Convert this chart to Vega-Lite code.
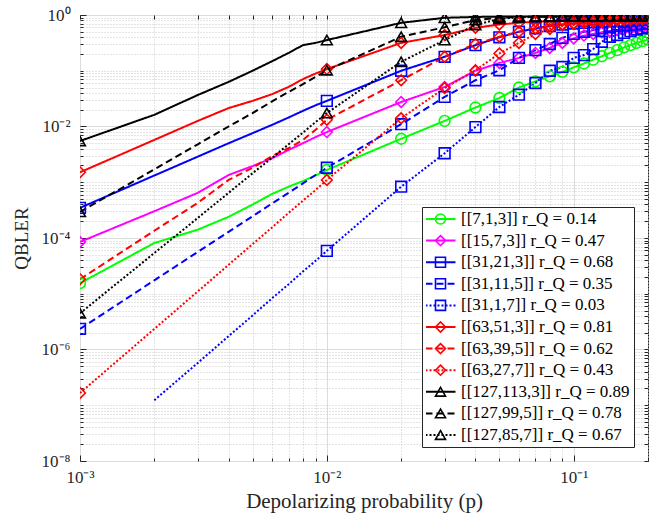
{
  "$schema": "https://vega.github.io/schema/vega-lite/v6.json",
  "width": 568,
  "height": 446,
  "autosize": "none",
  "padding": {"left": 80, "top": 15, "right": 2, "bottom": 59},
  "background": "white",
  "datasets": {
    "d": [
      {"s":"[[7,1,3]]","p":0.001,"q":1.55e-5},{"s":"[[7,1,3]]","p":0.002,"q":8.13e-5},{"s":"[[7,1,3]]","p":0.003,"q":1.41e-4},{"s":"[[7,1,3]]","p":0.004,"q":2.40e-4},{"s":"[[7,1,3]]","p":0.005,"q":3.98e-4},{"s":"[[7,1,3]]","p":0.006,"q":6.17e-4},{"s":"[[7,1,3]]","p":0.007,"q":8.32e-4},{"s":"[[7,1,3]]","p":0.008,"q":1.05e-3},{"s":"[[7,1,3]]","p":0.009,"q":1.32e-3},{"s":"[[7,1,3]]","p":0.01,"q":1.66e-3},{"s":"[[7,1,3]]","p":0.02,"q":6.03e-3},{"s":"[[7,1,3]]","p":0.03,"q":0.0126},{"s":"[[7,1,3]]","p":0.04,"q":0.0219},{"s":"[[7,1,3]]","p":0.05,"q":0.0324},{"s":"[[7,1,3]]","p":0.06,"q":0.0501},{"s":"[[7,1,3]]","p":0.07,"q":0.0646},{"s":"[[7,1,3]]","p":0.08,"q":0.0794},{"s":"[[7,1,3]]","p":0.09,"q":0.0955},{"s":"[[7,1,3]]","p":0.1,"q":0.115},{"s":"[[7,1,3]]","p":0.11,"q":0.135},{"s":"[[7,1,3]]","p":0.12,"q":0.158},{"s":"[[7,1,3]]","p":0.13,"q":0.182},{"s":"[[7,1,3]]","p":0.14,"q":0.209},{"s":"[[7,1,3]]","p":0.15,"q":0.234},{"s":"[[7,1,3]]","p":0.16,"q":0.263},{"s":"[[7,1,3]]","p":0.17,"q":0.288},{"s":"[[7,1,3]]","p":0.18,"q":0.316},{"s":"[[7,1,3]]","p":0.19,"q":0.339},{"s":"[[7,1,3]]","p":0.2,"q":0.363},
      {"s":"[[15,7,3]]","p":0.001,"q":8.51e-5},{"s":"[[15,7,3]]","p":0.002,"q":3.02e-4},{"s":"[[15,7,3]]","p":0.003,"q":6.46e-4},{"s":"[[15,7,3]]","p":0.004,"q":1.35e-3},{"s":"[[15,7,3]]","p":0.005,"q":1.95e-3},{"s":"[[15,7,3]]","p":0.006,"q":2.69e-3},{"s":"[[15,7,3]]","p":0.007,"q":3.80e-3},{"s":"[[15,7,3]]","p":0.008,"q":5.01e-3},{"s":"[[15,7,3]]","p":0.009,"q":6.46e-3},{"s":"[[15,7,3]]","p":0.01,"q":7.94e-3},{"s":"[[15,7,3]]","p":0.02,"q":0.0275},{"s":"[[15,7,3]]","p":0.03,"q":0.0513},{"s":"[[15,7,3]]","p":0.04,"q":0.1},{"s":"[[15,7,3]]","p":0.05,"q":0.138},{"s":"[[15,7,3]]","p":0.06,"q":0.170},{"s":"[[15,7,3]]","p":0.07,"q":0.209},{"s":"[[15,7,3]]","p":0.08,"q":0.257},{"s":"[[15,7,3]]","p":0.09,"q":0.316},{"s":"[[15,7,3]]","p":0.1,"q":0.380},{"s":"[[15,7,3]]","p":0.11,"q":0.427},{"s":"[[15,7,3]]","p":0.12,"q":0.457},{"s":"[[15,7,3]]","p":0.13,"q":0.490},{"s":"[[15,7,3]]","p":0.14,"q":0.513},{"s":"[[15,7,3]]","p":0.15,"q":0.537},{"s":"[[15,7,3]]","p":0.16,"q":0.550},{"s":"[[15,7,3]]","p":0.17,"q":0.562},{"s":"[[15,7,3]]","p":0.18,"q":0.575},{"s":"[[15,7,3]]","p":0.19,"q":0.589},{"s":"[[15,7,3]]","p":0.2,"q":0.603},
      {"s":"[[31,21,3]]","p":0.001,"q":3.47e-4},{"s":"[[31,21,3]]","p":0.002,"q":1.32e-3},{"s":"[[31,21,3]]","p":0.003,"q":2.88e-3},{"s":"[[31,21,3]]","p":0.004,"q":5.01e-3},{"s":"[[31,21,3]]","p":0.005,"q":7.59e-3},{"s":"[[31,21,3]]","p":0.006,"q":0.0107},{"s":"[[31,21,3]]","p":0.007,"q":0.0145},{"s":"[[31,21,3]]","p":0.008,"q":0.0191},{"s":"[[31,21,3]]","p":0.009,"q":0.0240},{"s":"[[31,21,3]]","p":0.01,"q":0.0288},{"s":"[[31,21,3]]","p":0.02,"q":0.1},{"s":"[[31,21,3]]","p":0.03,"q":0.178},{"s":"[[31,21,3]]","p":0.04,"q":0.288},{"s":"[[31,21,3]]","p":0.05,"q":0.398},{"s":"[[31,21,3]]","p":0.06,"q":0.501},{"s":"[[31,21,3]]","p":0.07,"q":0.575},{"s":"[[31,21,3]]","p":0.08,"q":0.631},{"s":"[[31,21,3]]","p":0.09,"q":0.676},{"s":"[[31,21,3]]","p":0.1,"q":0.708},{"s":"[[31,21,3]]","p":0.11,"q":0.724},{"s":"[[31,21,3]]","p":0.12,"q":0.741},{"s":"[[31,21,3]]","p":0.13,"q":0.759},{"s":"[[31,21,3]]","p":0.14,"q":0.767},{"s":"[[31,21,3]]","p":0.15,"q":0.776},{"s":"[[31,21,3]]","p":0.16,"q":0.785},{"s":"[[31,21,3]]","p":0.17,"q":0.794},{"s":"[[31,21,3]]","p":0.18,"q":0.804},{"s":"[[31,21,3]]","p":0.19,"q":0.813},{"s":"[[31,21,3]]","p":0.2,"q":0.822},
      {"s":"[[31,11,5]]","p":0.001,"q":2.34e-6},{"s":"[[31,11,5]]","p":0.002,"q":1.74e-5},{"s":"[[31,11,5]]","p":0.003,"q":5.62e-5},{"s":"[[31,11,5]]","p":0.004,"q":1.29e-4},{"s":"[[31,11,5]]","p":0.005,"q":2.45e-4},{"s":"[[31,11,5]]","p":0.006,"q":4.17e-4},{"s":"[[31,11,5]]","p":0.007,"q":6.46e-4},{"s":"[[31,11,5]]","p":0.008,"q":9.55e-4},{"s":"[[31,11,5]]","p":0.009,"q":1.35e-3},{"s":"[[31,11,5]]","p":0.01,"q":1.82e-3},{"s":"[[31,11,5]]","p":0.02,"q":0.011},{"s":"[[31,11,5]]","p":0.03,"q":0.0339},{"s":"[[31,11,5]]","p":0.04,"q":0.0676},{"s":"[[31,11,5]]","p":0.05,"q":0.102},{"s":"[[31,11,5]]","p":0.06,"q":0.170},{"s":"[[31,11,5]]","p":0.07,"q":0.234},{"s":"[[31,11,5]]","p":0.08,"q":0.302},{"s":"[[31,11,5]]","p":0.09,"q":0.389},{"s":"[[31,11,5]]","p":0.1,"q":0.457},{"s":"[[31,11,5]]","p":0.11,"q":0.501},{"s":"[[31,11,5]]","p":0.12,"q":0.537},{"s":"[[31,11,5]]","p":0.13,"q":0.575},{"s":"[[31,11,5]]","p":0.14,"q":0.603},{"s":"[[31,11,5]]","p":0.15,"q":0.631},{"s":"[[31,11,5]]","p":0.16,"q":0.646},{"s":"[[31,11,5]]","p":0.17,"q":0.661},{"s":"[[31,11,5]]","p":0.18,"q":0.676},{"s":"[[31,11,5]]","p":0.19,"q":0.692},{"s":"[[31,11,5]]","p":0.2,"q":0.708},
      {"s":"[[31,1,7]]","p":0.002,"q":1.23e-7},{"s":"[[31,1,7]]","p":0.003,"q":5.75e-7},{"s":"[[31,1,7]]","p":0.004,"q":1.74e-6},{"s":"[[31,1,7]]","p":0.005,"q":4.07e-6},{"s":"[[31,1,7]]","p":0.006,"q":8.32e-6},{"s":"[[31,1,7]]","p":0.007,"q":1.48e-5},{"s":"[[31,1,7]]","p":0.008,"q":2.51e-5},{"s":"[[31,1,7]]","p":0.009,"q":3.89e-5},{"s":"[[31,1,7]]","p":0.01,"q":5.89e-5},{"s":"[[31,1,7]]","p":0.02,"q":8.32e-4},{"s":"[[31,1,7]]","p":0.03,"q":3.31e-3},{"s":"[[31,1,7]]","p":0.04,"q":9.77e-3},{"s":"[[31,1,7]]","p":0.05,"q":0.0224},{"s":"[[31,1,7]]","p":0.06,"q":0.0372},{"s":"[[31,1,7]]","p":0.07,"q":0.0603},{"s":"[[31,1,7]]","p":0.08,"q":0.1},{"s":"[[31,1,7]]","p":0.09,"q":0.117},{"s":"[[31,1,7]]","p":0.1,"q":0.170},{"s":"[[31,1,7]]","p":0.11,"q":0.191},{"s":"[[31,1,7]]","p":0.12,"q":0.245},{"s":"[[31,1,7]]","p":0.13,"q":0.331},{"s":"[[31,1,7]]","p":0.14,"q":0.407},{"s":"[[31,1,7]]","p":0.15,"q":0.437},{"s":"[[31,1,7]]","p":0.16,"q":0.479},{"s":"[[31,1,7]]","p":0.17,"q":0.513},{"s":"[[31,1,7]]","p":0.18,"q":0.550},{"s":"[[31,1,7]]","p":0.19,"q":0.575},{"s":"[[31,1,7]]","p":0.2,"q":0.603},
      {"s":"[[63,51,3]]","p":0.001,"q":1.51e-3},{"s":"[[63,51,3]]","p":0.002,"q":5.75e-3},{"s":"[[63,51,3]]","p":0.003,"q":0.0126},{"s":"[[63,51,3]]","p":0.004,"q":0.0214},{"s":"[[63,51,3]]","p":0.005,"q":0.0288},{"s":"[[63,51,3]]","p":0.006,"q":0.038},{"s":"[[63,51,3]]","p":0.007,"q":0.0513},{"s":"[[63,51,3]]","p":0.008,"q":0.0708},{"s":"[[63,51,3]]","p":0.009,"q":0.0891},{"s":"[[63,51,3]]","p":0.01,"q":0.107},{"s":"[[63,51,3]]","p":0.02,"q":0.316},{"s":"[[63,51,3]]","p":0.03,"q":0.437},{"s":"[[63,51,3]]","p":0.04,"q":0.589},{"s":"[[63,51,3]]","p":0.05,"q":0.676},{"s":"[[63,51,3]]","p":0.06,"q":0.724},{"s":"[[63,51,3]]","p":0.07,"q":0.759},{"s":"[[63,51,3]]","p":0.08,"q":0.776},{"s":"[[63,51,3]]","p":0.09,"q":0.794},{"s":"[[63,51,3]]","p":0.1,"q":0.813},{"s":"[[63,51,3]]","p":0.11,"q":0.822},{"s":"[[63,51,3]]","p":0.12,"q":0.832},{"s":"[[63,51,3]]","p":0.13,"q":0.841},{"s":"[[63,51,3]]","p":0.14,"q":0.851},{"s":"[[63,51,3]]","p":0.15,"q":0.855},{"s":"[[63,51,3]]","p":0.16,"q":0.861},{"s":"[[63,51,3]]","p":0.17,"q":0.867},{"s":"[[63,51,3]]","p":0.18,"q":0.871},{"s":"[[63,51,3]]","p":0.19,"q":0.875},{"s":"[[63,51,3]]","p":0.2,"q":0.881},
      {"s":"[[63,39,5]]","p":0.001,"q":1.82e-5},{"s":"[[63,39,5]]","p":0.002,"q":1.35e-4},{"s":"[[63,39,5]]","p":0.003,"q":4.27e-4},{"s":"[[63,39,5]]","p":0.004,"q":1.10e-3},{"s":"[[63,39,5]]","p":0.005,"q":1.82e-3},{"s":"[[63,39,5]]","p":0.006,"q":2.95e-3},{"s":"[[63,39,5]]","p":0.007,"q":4.07e-3},{"s":"[[63,39,5]]","p":0.008,"q":5.75e-3},{"s":"[[63,39,5]]","p":0.009,"q":8.71e-3},{"s":"[[63,39,5]]","p":0.01,"q":0.0132},{"s":"[[63,39,5]]","p":0.02,"q":0.0676},{"s":"[[63,39,5]]","p":0.03,"q":0.178},{"s":"[[63,39,5]]","p":0.04,"q":0.302},{"s":"[[63,39,5]]","p":0.05,"q":0.407},{"s":"[[63,39,5]]","p":0.06,"q":0.501},{"s":"[[63,39,5]]","p":0.07,"q":0.575},{"s":"[[63,39,5]]","p":0.08,"q":0.631},{"s":"[[63,39,5]]","p":0.09,"q":0.676},{"s":"[[63,39,5]]","p":0.1,"q":0.708},{"s":"[[63,39,5]]","p":0.11,"q":0.724},{"s":"[[63,39,5]]","p":0.12,"q":0.741},{"s":"[[63,39,5]]","p":0.13,"q":0.759},{"s":"[[63,39,5]]","p":0.14,"q":0.776},{"s":"[[63,39,5]]","p":0.15,"q":0.794},{"s":"[[63,39,5]]","p":0.16,"q":0.804},{"s":"[[63,39,5]]","p":0.17,"q":0.813},{"s":"[[63,39,5]]","p":0.18,"q":0.822},{"s":"[[63,39,5]]","p":0.19,"q":0.832},{"s":"[[63,39,5]]","p":0.2,"q":0.841},
      {"s":"[[63,27,7]]","p":0.001,"q":1.66e-7},{"s":"[[63,27,7]]","p":0.002,"q":2.34e-6},{"s":"[[63,27,7]]","p":0.003,"q":1.10e-5},{"s":"[[63,27,7]]","p":0.004,"q":3.31e-5},{"s":"[[63,27,7]]","p":0.005,"q":7.76e-5},{"s":"[[63,27,7]]","p":0.006,"q":1.55e-4},{"s":"[[63,27,7]]","p":0.007,"q":2.82e-4},{"s":"[[63,27,7]]","p":0.008,"q":4.68e-4},{"s":"[[63,27,7]]","p":0.009,"q":7.24e-4},{"s":"[[63,27,7]]","p":0.01,"q":1.10e-3},{"s":"[[63,27,7]]","p":0.02,"q":0.0141},{"s":"[[63,27,7]]","p":0.03,"q":0.049},{"s":"[[63,27,7]]","p":0.04,"q":0.102},{"s":"[[63,27,7]]","p":0.05,"q":0.204},{"s":"[[63,27,7]]","p":0.06,"q":0.316},{"s":"[[63,27,7]]","p":0.07,"q":0.457},{"s":"[[63,27,7]]","p":0.08,"q":0.562},{"s":"[[63,27,7]]","p":0.09,"q":0.646},{"s":"[[63,27,7]]","p":0.1,"q":0.692},{"s":"[[63,27,7]]","p":0.11,"q":0.724},{"s":"[[63,27,7]]","p":0.12,"q":0.759},{"s":"[[63,27,7]]","p":0.13,"q":0.776},{"s":"[[63,27,7]]","p":0.14,"q":0.794},{"s":"[[63,27,7]]","p":0.15,"q":0.813},{"s":"[[63,27,7]]","p":0.16,"q":0.822},{"s":"[[63,27,7]]","p":0.17,"q":0.832},{"s":"[[63,27,7]]","p":0.18,"q":0.841},{"s":"[[63,27,7]]","p":0.19,"q":0.851},{"s":"[[63,27,7]]","p":0.2,"q":0.861},
      {"s":"[[127,113,3]]","p":0.001,"q":5.50e-3},{"s":"[[127,113,3]]","p":0.002,"q":0.0162},{"s":"[[127,113,3]]","p":0.003,"q":0.0367},{"s":"[[127,113,3]]","p":0.004,"q":0.0631},{"s":"[[127,113,3]]","p":0.005,"q":0.1},{"s":"[[127,113,3]]","p":0.006,"q":0.148},{"s":"[[127,113,3]]","p":0.007,"q":0.209},{"s":"[[127,113,3]]","p":0.008,"q":0.288},{"s":"[[127,113,3]]","p":0.009,"q":0.316},{"s":"[[127,113,3]]","p":0.01,"q":0.355},{"s":"[[127,113,3]]","p":0.02,"q":0.724},{"s":"[[127,113,3]]","p":0.03,"q":0.891},{"s":"[[127,113,3]]","p":0.04,"q":0.923},{"s":"[[127,113,3]]","p":0.05,"q":0.933},{"s":"[[127,113,3]]","p":0.06,"q":0.944},{"s":"[[127,113,3]]","p":0.07,"q":0.944},{"s":"[[127,113,3]]","p":0.08,"q":0.948},{"s":"[[127,113,3]]","p":0.09,"q":0.95},{"s":"[[127,113,3]]","p":0.1,"q":0.952},{"s":"[[127,113,3]]","p":0.11,"q":0.953},{"s":"[[127,113,3]]","p":0.12,"q":0.955},{"s":"[[127,113,3]]","p":0.13,"q":0.956},{"s":"[[127,113,3]]","p":0.14,"q":0.957},{"s":"[[127,113,3]]","p":0.15,"q":0.958},{"s":"[[127,113,3]]","p":0.16,"q":0.959},{"s":"[[127,113,3]]","p":0.17,"q":0.96},{"s":"[[127,113,3]]","p":0.18,"q":0.96},{"s":"[[127,113,3]]","p":0.19,"q":0.961},{"s":"[[127,113,3]]","p":0.2,"q":0.962},
      {"s":"[[127,99,5]]","p":0.001,"q":2.95e-4},{"s":"[[127,99,5]]","p":0.002,"q":1.70e-3},{"s":"[[127,99,5]]","p":0.003,"q":4.79e-3},{"s":"[[127,99,5]]","p":0.004,"q":0.01},{"s":"[[127,99,5]]","p":0.005,"q":0.0174},{"s":"[[127,99,5]]","p":0.006,"q":0.0282},{"s":"[[127,99,5]]","p":0.007,"q":0.0417},{"s":"[[127,99,5]]","p":0.008,"q":0.0575},{"s":"[[127,99,5]]","p":0.009,"q":0.0776},{"s":"[[127,99,5]]","p":0.01,"q":0.102},{"s":"[[127,99,5]]","p":0.02,"q":0.407},{"s":"[[127,99,5]]","p":0.03,"q":0.603},{"s":"[[127,99,5]]","p":0.04,"q":0.813},{"s":"[[127,99,5]]","p":0.05,"q":0.891},{"s":"[[127,99,5]]","p":0.06,"q":0.923},{"s":"[[127,99,5]]","p":0.07,"q":0.93},{"s":"[[127,99,5]]","p":0.08,"q":0.933},{"s":"[[127,99,5]]","p":0.09,"q":0.936},{"s":"[[127,99,5]]","p":0.1,"q":0.938},{"s":"[[127,99,5]]","p":0.11,"q":0.94},{"s":"[[127,99,5]]","p":0.12,"q":0.942},{"s":"[[127,99,5]]","p":0.13,"q":0.944},{"s":"[[127,99,5]]","p":0.14,"q":0.946},{"s":"[[127,99,5]]","p":0.15,"q":0.948},{"s":"[[127,99,5]]","p":0.16,"q":0.95},{"s":"[[127,99,5]]","p":0.17,"q":0.951},{"s":"[[127,99,5]]","p":0.18,"q":0.952},{"s":"[[127,99,5]]","p":0.19,"q":0.953},{"s":"[[127,99,5]]","p":0.2,"q":0.955},
      {"s":"[[127,85,7]]","p":0.001,"q":4.47e-6},{"s":"[[127,85,7]]","p":0.002,"q":5.37e-5},{"s":"[[127,85,7]]","p":0.003,"q":2.29e-4},{"s":"[[127,85,7]]","p":0.004,"q":6.46e-4},{"s":"[[127,85,7]]","p":0.005,"q":1.45e-3},{"s":"[[127,85,7]]","p":0.006,"q":2.75e-3},{"s":"[[127,85,7]]","p":0.007,"q":4.79e-3},{"s":"[[127,85,7]]","p":0.008,"q":7.76e-3},{"s":"[[127,85,7]]","p":0.009,"q":0.012},{"s":"[[127,85,7]]","p":0.01,"q":0.0174},{"s":"[[127,85,7]]","p":0.02,"q":0.145},{"s":"[[127,85,7]]","p":0.03,"q":0.355},{"s":"[[127,85,7]]","p":0.04,"q":0.661},{"s":"[[127,85,7]]","p":0.05,"q":0.851},{"s":"[[127,85,7]]","p":0.06,"q":0.912},{"s":"[[127,85,7]]","p":0.07,"q":0.925},{"s":"[[127,85,7]]","p":0.08,"q":0.93},{"s":"[[127,85,7]]","p":0.09,"q":0.934},{"s":"[[127,85,7]]","p":0.1,"q":0.937},{"s":"[[127,85,7]]","p":0.11,"q":0.94},{"s":"[[127,85,7]]","p":0.12,"q":0.942},{"s":"[[127,85,7]]","p":0.13,"q":0.944},{"s":"[[127,85,7]]","p":0.14,"q":0.946},{"s":"[[127,85,7]]","p":0.15,"q":0.948},{"s":"[[127,85,7]]","p":0.16,"q":0.95},{"s":"[[127,85,7]]","p":0.17,"q":0.951},{"s":"[[127,85,7]]","p":0.18,"q":0.952},{"s":"[[127,85,7]]","p":0.19,"q":0.953},{"s":"[[127,85,7]]","p":0.2,"q":0.955}
    ]
  },
  "data": {"name": "d"},
  "layer": [
    {
      "mark": {"type": "line", "strokeWidth": 2, "clip": true},
      "encoding": {
        "x": {"field": "p", "type": "quantitative",
          "scale": {"type": "log", "domain": [0.001, 0.2], "nice": false},
          "axis": {"orient": "bottom", "values": [0.001, 0.01, 0.1], "grid": true, "gridColor": "#dcdcdc", "gridWidth": 1,
            "tickSize": -6, "labelPadding": 14, "labelFontSize": 17, "labelFlush": false,
            "labelExpr": "datum.value < 0.005 ? '10⁻³' : datum.value < 0.05 ? '10⁻²' : '10⁻¹'",
            "title": "Depolarizing probability (p)", "titleFontSize": 21, "titlePadding": 5}},
        "y": {"field": "q", "type": "quantitative",
          "scale": {"type": "log", "domain": [1e-8, 1], "nice": false},
          "axis": {"orient": "left", "values": [1, 0.01, 0.0001, 1e-6, 1e-8], "grid": true, "gridColor": "#dcdcdc", "gridWidth": 1,
            "tickSize": -6, "labelPadding": 16, "labelFontSize": 17, "labelFlush": false,
            "labelExpr": "datum.value > 0.5 ? '10⁰' : datum.value > 0.005 ? '10⁻²' : datum.value > 0.00005 ? '10⁻⁴' : datum.value > 5e-7 ? '10⁻⁶' : '10⁻⁸'",
            "title": "QBLER", "titleFontSize": 19, "titlePadding": 10}},
        "color": {"field": "s", "type": "nominal",
          "scale": {"domain": ["[[7,1,3]]","[[15,7,3]]","[[31,21,3]]","[[31,11,5]]","[[31,1,7]]","[[63,51,3]]","[[63,39,5]]","[[63,27,7]]","[[127,113,3]]","[[127,99,5]]","[[127,85,7]]"],
            "range": ["#00ff00","#ff00ff","#0000ff","#0000ff","#0000ff","#ff0000","#ff0000","#ff0000","#000000","#000000","#000000"]},
          "legend": {"orient": "none", "legendX": 342, "legendY": 192, "title": null, "symbolType": "M-3,0H3", "symbolSize": 100, "symbolStrokeWidth": 2,
            "symbolOffset": 6, "labelOffset": 12, "labelFontSize": 17, "labelFont": "Liberation Serif", "labelColor": "#000000", "rowPadding": 4.6, "padding": 4, "clipHeight": 16,
            "fillColor": "white", "strokeColor": "#262626", "labelLimit": 300,
            "labelExpr": "datum.label + ' r_Q = ' + ['0.14','0.47','0.68','0.35','0.03','0.81','0.62','0.43','0.89','0.78','0.67'][indexof(['[[7,1,3]]','[[15,7,3]]','[[31,21,3]]','[[31,11,5]]','[[31,1,7]]','[[63,51,3]]','[[63,39,5]]','[[63,27,7]]','[[127,113,3]]','[[127,99,5]]','[[127,85,7]]'], datum.label)]"}},
        "strokeDash": {"field": "s", "type": "nominal",
          "scale": {"domain": ["[[7,1,3]]","[[15,7,3]]","[[31,21,3]]","[[31,11,5]]","[[31,1,7]]","[[63,51,3]]","[[63,39,5]]","[[63,27,7]]","[[127,113,3]]","[[127,99,5]]","[[127,85,7]]"],
            "range": [[1,0],[1,0],[1,0],[7,4],[2,2],[1,0],[7,4],[2,2],[1,0],[7,4],[2,2]]},
          "legend": {"orient": "none", "legendX": 342, "legendY": 192, "title": null, "symbolType": "M-3,0H3", "symbolSize": 100, "symbolStrokeWidth": 2,
            "symbolOffset": 6, "labelOffset": 12, "labelFontSize": 17, "labelFont": "Liberation Serif", "labelColor": "#000000", "rowPadding": 4.6, "padding": 4, "clipHeight": 16,
            "fillColor": "white", "strokeColor": "#262626", "labelLimit": 300}}
      }
    },
    {
      "transform": [{"filter": "datum.p < 0.0015 || datum.p > 0.0095"}],
      "mark": {"type": "point", "filled": false, "strokeWidth": 1.6, "size": 115, "opacity": 1, "clip": true},
      "encoding": {
        "x": {"field": "p", "type": "quantitative",
          "axis": {"orient": "bottom", "values": [0.002,0.003,0.004,0.005,0.006,0.007,0.008,0.009,0.02,0.03,0.04,0.05,0.06,0.07,0.08,0.09,0.2],
            "grid": true, "gridColor": "#c8c8c8", "gridDash": [1, 2], "tickSize": -3, "labels": false, "title": null}},
        "y": {"field": "q", "type": "quantitative",
          "axis": {"orient": "left", "values": [2e-8,3e-8,4e-8,5e-8,6e-8,7e-8,8e-8,9e-8,1e-7,2e-7,3e-7,4e-7,5e-7,6e-7,7e-7,8e-7,9e-7,2e-6,3e-6,4e-6,5e-6,6e-6,7e-6,8e-6,9e-6,1e-5,2e-5,3e-5,4e-5,5e-5,6e-5,7e-5,8e-5,9e-5,2e-4,3e-4,4e-4,5e-4,6e-4,7e-4,8e-4,9e-4,1e-3,2e-3,3e-3,4e-3,5e-3,6e-3,7e-3,8e-3,9e-3,2e-2,3e-2,4e-2,5e-2,6e-2,7e-2,8e-2,9e-2,1e-1,2e-1,3e-1,4e-1,5e-1,6e-1,7e-1,8e-1,9e-1],
            "grid": true, "gridColor": "#c8c8c8", "gridDash": [1, 2], "tickSize": -3, "labels": false, "title": null}},
        "color": {"field": "s", "type": "nominal",
          "legend": {"orient": "none", "legendX": 342, "legendY": 192, "title": null, "symbolSize": 100, "symbolStrokeWidth": 1.6,
            "symbolOffset": 6, "labelOffset": 12, "labelFontSize": 17, "labelFont": "Liberation Serif", "rowPadding": 4.6, "padding": 4, "clipHeight": 16, "labelLimit": 300,
            "labelExpr": "''"}},
        "shape": {"field": "s", "type": "nominal",
          "scale": {"domain": ["[[7,1,3]]","[[15,7,3]]","[[31,21,3]]","[[31,11,5]]","[[31,1,7]]","[[63,51,3]]","[[63,39,5]]","[[63,27,7]]","[[127,113,3]]","[[127,99,5]]","[[127,85,7]]"],
            "range": ["circle","diamond","square","square","square","diamond","diamond","diamond","triangle-up","triangle-up","triangle-up"]},
          "legend": {"orient": "none", "legendX": 342, "legendY": 192, "title": null, "symbolSize": 100, "symbolStrokeWidth": 1.6,
            "symbolOffset": 6, "labelOffset": 12, "labelFontSize": 17, "labelFont": "Liberation Serif", "rowPadding": 4.6, "padding": 4, "clipHeight": 16, "labelLimit": 300,
            "labelExpr": "''"}}
      }
    },
    {
      "mark": {"type": "point", "opacity": 0},
      "encoding": {
        "x": {"field": "p", "type": "quantitative",
          "axis": {"orient": "top", "values": [0.001,0.002,0.003,0.004,0.005,0.006,0.007,0.008,0.009,0.01,0.02,0.03,0.04,0.05,0.06,0.07,0.08,0.09,0.1,0.2],
            "grid": false, "tickSize": -4, "labels": false, "title": null}},
        "y": {"field": "q", "type": "quantitative",
          "axis": {"orient": "right", "values": [1e-8,2e-8,3e-8,4e-8,5e-8,6e-8,7e-8,8e-8,9e-8,1e-7,2e-7,3e-7,4e-7,5e-7,6e-7,7e-7,8e-7,9e-7,1e-6,2e-6,3e-6,4e-6,5e-6,6e-6,7e-6,8e-6,9e-6,1e-5,2e-5,3e-5,4e-5,5e-5,6e-5,7e-5,8e-5,9e-5,1e-4,2e-4,3e-4,4e-4,5e-4,6e-4,7e-4,8e-4,9e-4,1e-3,2e-3,3e-3,4e-3,5e-3,6e-3,7e-3,8e-3,9e-3,1e-2,2e-2,3e-2,4e-2,5e-2,6e-2,7e-2,8e-2,9e-2,1e-1,2e-1,3e-1,4e-1,5e-1,6e-1,7e-1,8e-1,9e-1,1],
            "grid": false, "tickSize": -4, "labels": false, "title": null}}
      }
    }
  ],
  "resolve": {
    "axis": {"x": "independent", "y": "independent"},
    "legend": {"color": "independent", "shape": "independent", "strokeDash": "independent"}
  },
  "config": {
    "font": "Liberation Serif",
    "view": {"stroke": "#262626", "strokeWidth": 1},
    "axis": {"domain": false, "labelFont": "Liberation Serif", "titleFont": "Liberation Serif", "labelColor": "#262626", "titleColor": "#262626",
      "titleFontWeight": "normal", "tickColor": "#262626", "tickWidth": 1}
  }
}
